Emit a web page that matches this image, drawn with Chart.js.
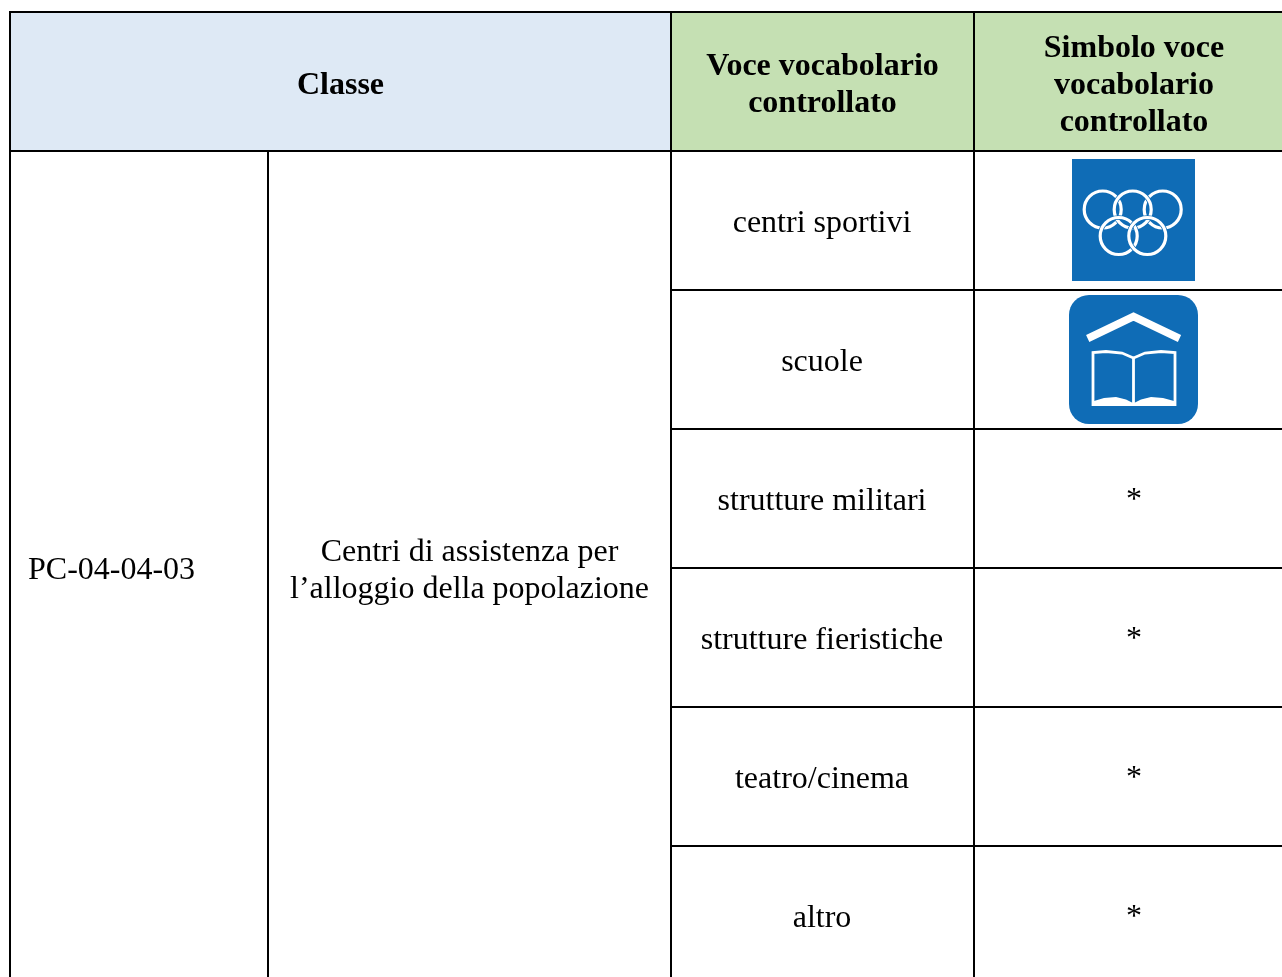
<!DOCTYPE html>
<html lang="it">
<head>
<meta charset="utf-8">
<title>Classe PC-04-04-03</title>
<script src="https://cdn.jsdelivr.net/npm/chart.js@4/dist/chart.umd.js"></script>
<style>
html, body { margin: 0; padding: 0; background: #fff; overflow: hidden; }
canvas { display: block; }
</style>
</head>
<body>
<canvas id="tableChart" width="1282" height="977"></canvas>
<script>
// testi della tabella
const HEADER_CLASS = 'Classe';
const HEADER_ITEM = ['Voce vocabolario', 'controllato'];
const HEADER_SYMBOL = ['Simbolo voce', 'vocabolario', 'controllato'];
const CLASS_CODE = 'PC-04-04-03';
const CLASS_NAME = ['Centri di assistenza per', 'l\u2019alloggio della popolazione'];
const ITEMS = ['centri sportivi', 'scuole', 'strutture militari', 'strutture fieristiche', 'teatro/cinema', 'altro'];
const SYMBOLS = ['olimpico', 'libro', '*', '*', '*', '*'];

// griglia, in pixel della figura
const COL_EDGES = [10, 268, 671, 974, 1282];
const ROW_EDGES = [12, 151, 290, 429, 568, 707, 846, 977];

// icone
const RING_X = [1102.7, 1132.7, 1162.7, 1118.7, 1147.3];
const RING_Y = [209.5, 209.5, 209.5, 236, 236];
const ROOF_X = [1087.7, 1133.5, 1179.5];
const ROOF_Y = [338.5, 316.5, 338.5];
const BOOK_X = [1133.5, 1122, 1106, 1093, 1093, 1175, 1175, 1161, 1145, 1133.5];
const BOOK_Y = [358, 353, 351.5, 352.5, 404.5, 404.5, 352.5, 351.5, 353, 358];
const SPINE_X = [1133.5, 1133.5];
const SPINE_Y = [358, 405];
const PAGE_L_X = [1094, 1104, 1116, 1126, 1133, 1133, 1094];
const PAGE_R_X = [1174, 1163, 1151, 1141, 1134, 1134, 1174];
const PAGE_Y = [401, 398, 397, 399.5, 403, 405, 405];

const BLUE_HEAD = '#dee9f5';
const GREEN_HEAD = '#c5e0b3';
const ICON_BLUE = '#0f6cb6';
const SERIF = '"Liberation Serif", "Times New Roman", serif';

function toPoints(xs, ys) {
    return xs.map((x, i) => ({ x: x, y: ys[i] }));
}

function rect(x0, y0, x1, y1, color) {
    return {
        data: toPoints([x0, x1, x1, x0, x0], [y0, y0, y1, y1, y0]),
        backgroundColor: color,
        borderWidth: 0,
        borderColor: color,
        fill: 'shape',
        pointRadius: 0
    };
}

function rule(x0, y0, x1, y1) {
    return {
        data: toPoints([x0, x1], [y0, y1]),
        borderColor: '#000',
        borderWidth: 2,
        fill: false,
        pointRadius: 0
    };
}

function whiteLine(xs, ys, width) {
    return {
        data: toPoints(xs, ys),
        borderColor: '#fff',
        borderWidth: width,
        fill: false,
        pointRadius: 0,
        borderJoinStyle: 'miter'
    };
}

function whiteShape(xs, ys) {
    return {
        data: toPoints(xs, ys),
        backgroundColor: '#fff',
        borderWidth: 0,
        fill: 'shape',
        pointRadius: 0
    };
}

function ring(i, color, width) {
    return {
        data: [{ x: RING_X[i], y: RING_Y[i] }],
        showLine: false,
        pointRadius: 18.5,
        pointStyle: 'circle',
        pointBackgroundColor: 'transparent',
        pointBorderColor: color,
        pointBorderWidth: width
    };
}

function buildDatasets() {
    const c = COL_EDGES, r = ROW_EDGES;
    const list = [];

    // intestazioni
    list.push(rect(c[0], r[0], c[2], r[1], BLUE_HEAD));
    list.push(rect(c[2], r[0], c[4], r[1], GREEN_HEAD));

    // icona 1
    list.push(rect(1072, 159, 1195, 281, ICON_BLUE));
    [0, 2, 1, 3, 4].forEach(i => {
        list.push(ring(i, ICON_BLUE, 4.6));
        list.push(ring(i, '#fff', 3.2));
    });

    // icona 2 (il fondo arrotondato sta nel plugin)
    list.push(whiteLine(ROOF_X, ROOF_Y, 7.5));
    list.push(whiteLine(BOOK_X, BOOK_Y, 2.8));
    list.push(whiteLine(SPINE_X, SPINE_Y, 2.8));
    list.push(whiteShape(PAGE_L_X, PAGE_Y));
    list.push(whiteShape(PAGE_R_X, PAGE_Y));

    // righe orizzontali
    list.push(rule(c[0] - 1, r[0], c[4], r[0]));
    list.push(rule(c[0] - 1, r[1], c[4], r[1]));
    for (let i = 2; i < r.length - 1; i++) {
        list.push(rule(c[2], r[i], c[4], r[i]));
    }

    // righe verticali
    list.push(rule(c[0], r[0], c[0], r[7]));
    list.push(rule(c[1], r[1], c[1], r[7]));
    list.push(rule(c[2], r[0], c[2], r[7]));
    list.push(rule(c[3], r[0], c[3], r[7]));

    // il primo dataset va sopra: qui vogliamo il contrario
    list.forEach((d, i) => { d.order = list.length - i; });
    return list;
}

const tilePlugin = {
    id: 'tile',
    beforeDatasetsDraw(chart) {
        const { x, y } = chart.scales;
        const ctx = chart.ctx;
        ctx.save();
        ctx.fillStyle = ICON_BLUE;
        ctx.beginPath();
        ctx.roundRect(x.getPixelForValue(1069), y.getPixelForValue(295), 129, 129, 20);
        ctx.fill();
        ctx.restore();
    }
};

const textPlugin = {
    id: 'tableText',
    afterDraw(chart) {
        const { x, y } = chart.scales;
        const ctx = chart.ctx;
        const r = ROW_EDGES;

        function put(str, px, py, font, align) {
            ctx.font = font;
            ctx.textAlign = align || 'center';
            ctx.fillText(str, x.getPixelForValue(px), y.getPixelForValue(py));
        }
        function lines(arr, px, py, font) {
            const top = py - (arr.length - 1) * 37 / 2;
            arr.forEach((s, i) => put(s, px, top + i * 37, font));
        }

        const bold = 'bold 32px ' + SERIF;
        const normal = '32px ' + SERIF;

        ctx.save();
        ctx.fillStyle = '#000';
        ctx.textBaseline = 'middle';

        put(HEADER_CLASS, 340.5, 85.5, bold);
        lines(HEADER_ITEM, 822.5, 85, bold);
        lines(HEADER_SYMBOL, 1134, 85.5, bold);

        put(CLASS_CODE, 28, 570.5, normal, 'left');
        lines(CLASS_NAME, 469.5, 571, normal);

        ITEMS.forEach((item, i) => {
            put(item, 822, r[i + 1] + 73, normal);
            if (SYMBOLS[i] === '*') {
                put(SYMBOLS[i], 1134, r[i + 1] + 71.5, normal);
            }
        });
        ctx.restore();
    }
};

new Chart('tableChart', {
    type: 'line',
    data: { datasets: buildDatasets() },
    plugins: [tilePlugin, textPlugin],
    options: {
        responsive: false,
        animation: false,
        events: [],
        layout: { padding: 0, autoPadding: false },
        elements: { line: { tension: 0 } },
        plugins: {
            legend: { display: false },
            tooltip: { enabled: false },
            title: { display: false }
        },
        scales: {
            x: { type: 'linear', min: 0, max: 1282, display: false },
            y: { type: 'linear', min: 0, max: 977, reverse: true, display: false }
        }
    }
});
</script>
</body>
</html>
